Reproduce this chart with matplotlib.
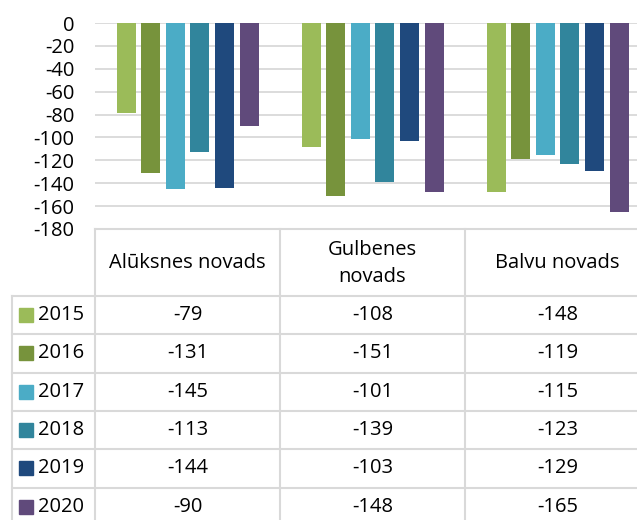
import matplotlib
matplotlib.use("Agg")
import matplotlib.pyplot as plt
import numpy as np

regions = ["Alūksnes novads", "Gulbenes\nnovads", "Balvu novads"]
years = ["2015", "2016", "2017", "2018", "2019", "2020"]
v2015 = [-79, -108, -148]
v2016 = [-131, -151, -119]
v2017 = [-145, -101, -115]
v2018 = [-113, -139, -123]
v2019 = [-144, -103, -129]
v2020 = [-90, -148, -165]
series = [v2015, v2016, v2017, v2018, v2019, v2020]
colors = ["#9BBB59", "#77933C", "#4BACC6", "#31859C", "#1F497D", "#604A7B"]

plt.rcParams["font.family"] = ["Open Sans", "DejaVu Sans"]
plt.rcParams["axes.unicode_minus"] = False
W, H = 637, 520
fig = plt.figure(figsize=(W / 100, H / 100), dpi=100)
grid_c = "#D9D9D9"
fs = 14.5

# chart area (pixel coords converted to figure fractions)
left, top, bottom, colw = 95, 23, 229, 185
ax = fig.add_axes([left / W, 1 - bottom / H, 3 * colw / W, (bottom - top) / H])
x = np.arange(len(regions))
slot = 24.6 / colw
bw = 19 / colw
for i, (vals, c) in enumerate(zip(series, colors)):
    ax.bar(x + (i - 2.5) * slot, vals, bw, color=c, zorder=3)
ax.set_xlim(-0.5, 2.5)
ax.set_ylim(-180, 0)
ax.set_yticks(np.arange(-180, 1, 20))
ax.set_xticks([])
ax.tick_params(axis="y", length=0, pad=15, labelsize=fs, labelcolor="#000000")
ax.grid(axis="y", color=grid_c, linewidth=1.3, zorder=0)
for s in ax.spines.values():
    s.set_visible(False)

# data table
tb = fig.add_axes([0, 0, 1, 1])
tb.set_xlim(0, W)
tb.set_ylim(H, 0)
tb.axis("off")
lw = 1.5
row_top = 296
row_h = 38.3
col_x = [left + k * colw for k in range(4)]
# header
tb.plot([left, W], [bottom, bottom], color=grid_c, lw=lw)
for cx in col_x[:3]:
    tb.plot([cx, cx], [bottom, H], color=grid_c, lw=lw)
tb.plot([12, 12], [row_top, H], color=grid_c, lw=lw)
for r in range(len(years)):
    y = row_top + r * row_h
    tb.plot([12, W], [y, y], color=grid_c, lw=lw)
for j, name in enumerate(regions):
    tb.text(col_x[j] + colw / 2, (bottom + row_top) / 2 + 1, name,
            ha="center", va="center", fontsize=fs, linespacing=1.45)
for r, (yr, vals, c) in enumerate(zip(years, series, colors)):
    yc = row_top + r * row_h + row_h / 2
    tb.add_patch(plt.Rectangle((19, yc - 7), 14, 14, color=c))
    tb.text(38, yc, yr, ha="left", va="center", fontsize=fs)
    for j, v in enumerate(vals):
        tb.text(col_x[j] + colw / 2, yc, str(v), ha="center", va="center", fontsize=fs)

fig.savefig("out.png", dpi=100)
